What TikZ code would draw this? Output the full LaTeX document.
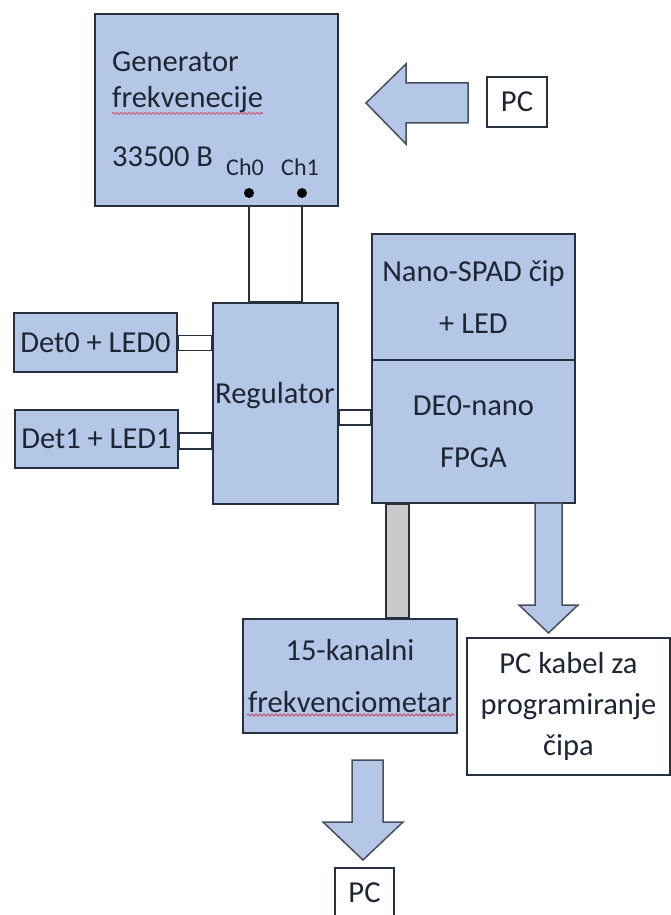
\documentclass[tikz,border=0pt]{standalone}
\usepackage{fontspec}
\setmainfont{Carlito}
\usetikzlibrary{calc,decorations.pathmorphing}
\definecolor{boxblue}{HTML}{B4C7E7}
\definecolor{boxline}{HTML}{26303F}
\definecolor{txtcol}{HTML}{1E2633}
\definecolor{bargray}{HTML}{C9C9C9}
\definecolor{spellred}{HTML}{D04060}

\begin{document}
\begin{tikzpicture}[x = 1pt, y = -1pt,
    every node/.style = {text = txtcol, inner sep = 0pt, font = \fontsize{30.5}{36}\selectfont},
    bluebox/.style = {draw = boxline, fill = boxblue, line width = 1.6pt},
    whitebox/.style = {draw = boxline, fill = white, line width = 1.6pt},
    fatarrow/.style = {draw = boxline!85, fill = boxblue, line width = 1.5pt, line join = miter},
    graybar/.style = {draw = boxline, fill = bargray, line width = 1.6pt},
    wire/.style = {draw = boxline, line width = 1.6pt},
    squiggle/.style = {spellred, line width = 0.8pt, decorate, decoration = {snake, amplitude = 1pt, segment length = 4pt}}]

    \useasboundingbox (0, 0) rectangle (671, 915);

    \node (gen) at (216.5, 110) [bluebox, minimum width = 243pt, minimum height = 192pt] {};
    \node (g1) at (112, 62) [anchor = west] {Generator};
    \node (g2) at (112, 100) [anchor = west] {frekvenecije};
    \node (g3) at (112, 157) [anchor = west] {33500 B};
    \draw [squiggle] (g2.south west) -- (g2.south east);
    \node (ch0) at (245, 167) [font = \fontsize{24}{28}\selectfont] {Ch0};
    \node (ch1) at (300, 167) [font = \fontsize{24}{28}\selectfont] {Ch1};
    \node (d0) at (249, 193) [circle, fill = black, minimum size = 10pt] {};
    \node (d1) at (302, 193) [circle, fill = black, minimum size = 10pt] {};

    \draw [fatarrow] (366, 103) -- (406, 64) -- (406, 83) -- (468, 83) -- (468, 123) -- (406, 123) -- (406, 144) -- cycle;
    \node (pc1) at (517, 102) [whitebox, minimum width = 60pt, minimum height = 50pt] {PC};

    \node (reg) at (275.5, 403.5) [bluebox, minimum width = 125pt, minimum height = 201pt] {};
    \node (regtxt) at (275, 396) {Regulator};
    \draw [wire] (d0 |- gen.south) -- (d0 |- reg.north) -- (d1 |- reg.north) -- (d1 |- gen.south);

    \node (det0) at (95.5, 342.5) [bluebox, minimum width = 163pt, minimum height = 59pt] {Det0 + LED0};
    \node (det1) at (96.5, 439) [bluebox, minimum width = 163pt, minimum height = 58pt] {Det1 + LED1};
    \draw [whitebox] ($(det0.east) + (0, -7)$) rectangle ($(reg.west |- det0.east) + (0, 8)$);
    \draw [whitebox] ($(det1.east) + (0, -6)$) rectangle ($(reg.west |- det1.east) + (0, 10)$);

    \node (chip) at (473.5, 297) [bluebox, minimum width = 203pt, minimum height = 126pt, align = center, font = \fontsize{30.5}{52}\selectfont] {Nano-SPAD čip\\+ LED};
    \node (fpga) at (473.5, 431.5) [bluebox, minimum width = 203pt, minimum height = 143pt, align = center, font = \fontsize{30.5}{52}\selectfont] {DE0-nano\\FPGA};
    \draw [whitebox] ($(reg.east) + (0, 6.5)$) rectangle ($(fpga.west |- reg.east) + (0, 21.5)$);

    \node (freq) at (350, 676) [bluebox, minimum width = 214pt, minimum height = 114pt, align = center, font = \fontsize{30.5}{52}\selectfont] {15-kanalni\\frekvenciometar};
    \draw [squiggle] (247, 715) -- (455, 715);
    \draw [graybar] ($(fpga.south west) + (15, 0)$) rectangle ($(fpga.south west |- freq.north) + (38, 0)$);

    \draw [fatarrow] (535, 503) -- (535, 605) -- (519, 605) -- (548.5, 633) -- (578, 605) -- (562, 605) -- (562, 503) -- cycle;
    \node (kabel) at (568.5, 706.5) [whitebox, minimum width = 203pt, minimum height = 137pt, align = center, font = \fontsize{30.5}{41}\selectfont] {PC kabel za\\programiranje\\čipa};

    \draw [fatarrow] (352, 760) -- (352, 822) -- (323, 822) -- (363, 860) -- (403, 822) -- (383, 822) -- (383, 760) -- cycle;
    \node (pc2) at (364.5, 893) [whitebox, minimum width = 59pt, minimum height = 50pt] {PC};

\end{tikzpicture}
\end{document}
